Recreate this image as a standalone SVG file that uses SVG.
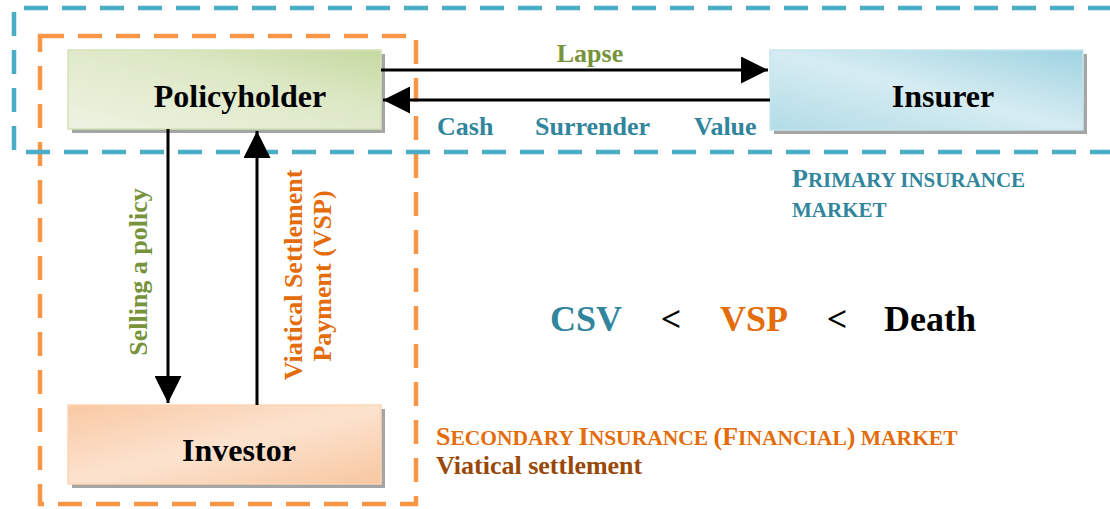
<svg xmlns="http://www.w3.org/2000/svg" width="1110" height="509" viewBox="0 0 1110 509">
<style>
.t{font-family:"Liberation Serif","Times New Roman",serif;font-weight:bold}
.node{font-size:32px;fill:#000}
.lbl{font-size:26px}
.green{fill:#77933C}
.teal{fill:#31859C}
.orange{fill:#E46C0A}
.brown{fill:#984807}
.conn{stroke:#000;stroke-width:3;fill:none}
.shadow{fill:#A5A5A5}
</style>
<defs>
<linearGradient id="gGreen" x1="0" y1="1" x2="1" y2="0">
<stop offset="0" stop-color="#EEF3E2"/>
<stop offset="0.6" stop-color="#DDE8C6"/>
<stop offset="1" stop-color="#C6D9A0"/>
</linearGradient>
<linearGradient id="gBlue" x1="0" y1="1" x2="1" y2="0">
<stop offset="0" stop-color="#B2DCE7"/>
<stop offset="0.5" stop-color="#D6ECF2"/>
<stop offset="1" stop-color="#9ED3E1"/>
</linearGradient>
<linearGradient id="gOrange" x1="0" y1="0" x2="1" y2="1">
<stop offset="0" stop-color="#F9C9A4"/>
<stop offset="0.5" stop-color="#FCE3CF"/>
<stop offset="1" stop-color="#F8C7A0"/>
</linearGradient>
<marker id="arr" markerWidth="9" markerHeight="9" refX="9" refY="4.5" orient="auto" markerUnits="strokeWidth">
<path d="M0,0 L9,4.5 L0,9 Z" fill="#000"/>
</marker>
</defs>
<rect width="1110" height="509" fill="#fff"/>

<g id="secondary-market">
<rect x="40" y="36" width="376" height="468" fill="none" stroke="#F79646" stroke-width="4.5" stroke-dasharray="24 14"/>
</g>
<g id="primary-market">
<path d="M1112,8 L14,8 L14,152 L1112,152" fill="none" stroke="#4BACC6" stroke-width="4.5" stroke-dasharray="24 14"/>
</g>

<g id="policyholder">
<rect class="shadow" x="72" y="54" width="313" height="79"/>
<rect x="68" y="50" width="313" height="79" fill="url(#gGreen)" stroke="#D4E2B8" stroke-width="1.5"/>
<text class="t node" x="240" y="107" text-anchor="middle">Policyholder</text>
</g>
<g id="insurer">
<rect class="shadow" x="774" y="54" width="313" height="80"/>
<rect x="770" y="50" width="313" height="80" fill="url(#gBlue)" stroke="#C6E6EE" stroke-width="1.5"/>
<text class="t node" x="943" y="107" text-anchor="middle">Insurer</text>
</g>
<g id="investor">
<rect class="shadow" x="72" y="409" width="313" height="79"/>
<rect x="68" y="405" width="313" height="79" fill="url(#gOrange)" stroke="#FBD5B5" stroke-width="1.5"/>
<text class="t node" x="239" y="461" text-anchor="middle">Investor</text>
</g>

<g id="connectors">
<line class="conn" x1="381" y1="70" x2="768" y2="70" marker-end="url(#arr)"/>
<line class="conn" x1="770" y1="100" x2="383" y2="100" marker-end="url(#arr)"/>
<line class="conn" x1="168" y1="129" x2="168" y2="403" marker-end="url(#arr)"/>
<line class="conn" x1="257" y1="405" x2="257" y2="131" marker-end="url(#arr)"/>
</g>

<g id="labels">
<text class="t lbl green" x="590" y="62" text-anchor="middle">Lapse</text>
<text class="t lbl teal" x="437" y="135">Cash</text>
<text class="t lbl teal" x="535" y="135">Surrender</text>
<text class="t lbl teal" x="694" y="135">Value</text>
<text class="t lbl green" transform="translate(147,272) rotate(-90)" text-anchor="middle">Selling a policy</text>
<text class="t lbl orange" transform="translate(302,275) rotate(-90)" text-anchor="middle">Viatical Settlement</text>
<text class="t lbl orange" transform="translate(331,276) rotate(-90)" text-anchor="middle">Payment (VSP)</text>

<text class="t teal" x="792" y="187" font-size="21"><tspan font-size="26">P</tspan>RIMARY INSURANCE</text>
<text class="t teal" x="792" y="217" font-size="21">MARKET</text>

<text class="t orange" x="436" y="445" font-size="21.5"><tspan font-size="26">S</tspan>ECONDARY <tspan font-size="26">I</tspan>NSURANCE <tspan font-size="26">(F</tspan>INANCIAL<tspan font-size="26">)</tspan> MARKET</text>
<text class="t lbl brown" x="436" y="474">Viatical settlement</text>

<text class="t teal" x="550" y="331" font-size="36">CSV</text>
<text class="t" x="671" y="331" font-size="36" text-anchor="middle" font-weight="normal" fill="#000">&lt;</text>
<text class="t orange" x="720" y="331" font-size="36" fill="#F07F2E">VSP</text>
<text class="t" x="837" y="331" font-size="36" text-anchor="middle" font-weight="normal" fill="#000">&lt;</text>
<text class="t" x="884" y="331" font-size="36" fill="#000">Death</text>
</g>
</svg>
